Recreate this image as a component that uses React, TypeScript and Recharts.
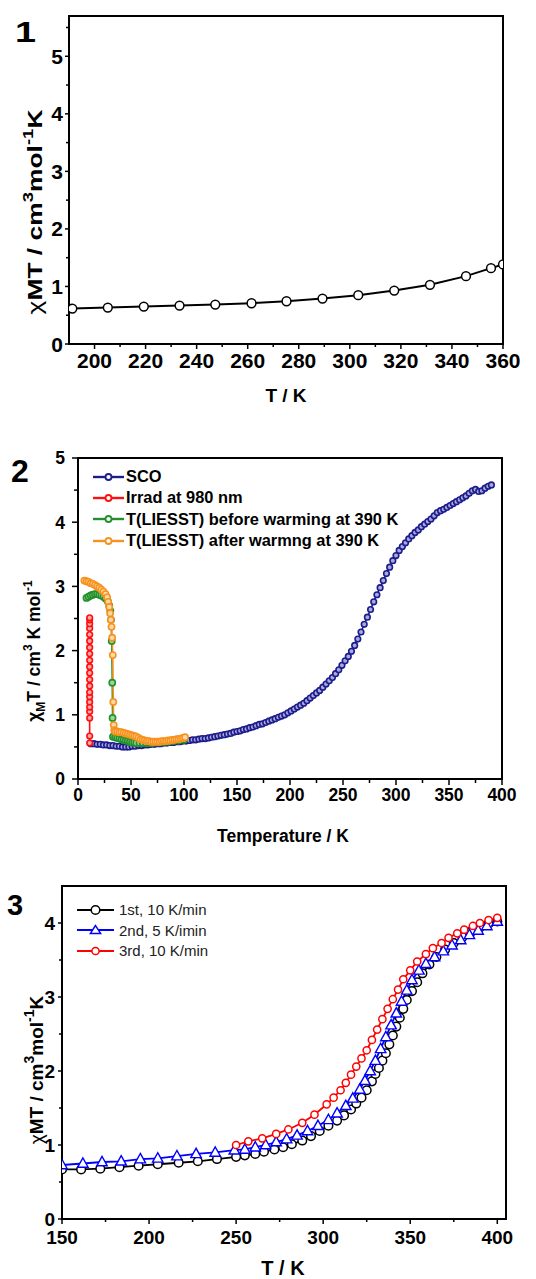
import React from 'react';
import { LineChart, Line, XAxis, YAxis, ReferenceArea, Legend } from 'recharts';

const FONT = '"Liberation Sans", Arial, Helvetica, sans-serif';

// ---------- Panel 1 ----------
const p1T = [191.3, 205.2, 219.3, 233.3, 247.3, 261.5, 275.2, 289.3, 303.3, 317.4, 331.4, 345.5, 355.3, 360];
const p1Chi = [0.616, 0.633, 0.65, 0.668, 0.685, 0.708, 0.743, 0.79, 0.848, 0.929, 1.028, 1.179, 1.318, 1.382];
const p1XMajor = [200, 220, 240, 260, 280, 300, 320, 340, 360];
const p1XMinor = [210, 230, 250, 270, 290, 310, 330, 350];
const p1YMajor = [0, 1, 2, 3, 4, 5];
const p1YMinor = [0.5, 1.5, 2.5, 3.5, 4.5, 5.5];

// ---------- Panel 2 ----------
const p2ScoT = [
  12, 15, 18, 21, 24, 27, 30, 33, 36, 39,
  42, 45, 48, 51, 54, 57, 60, 63, 66, 69,
  72, 75, 78, 81, 84, 87, 90, 93, 96, 99,
  102, 105, 108, 111, 114, 117, 120, 123, 126, 129,
  132, 135, 138, 141, 144, 147, 150, 153, 156, 159,
  162, 165, 168, 171, 174, 177, 180, 183, 186, 189,
  192, 195, 198, 201, 204, 207, 210, 213, 216, 219,
  222, 225, 228, 231, 234, 237, 240, 243, 246, 249,
  252, 255, 258, 261, 264, 267, 270, 273, 276, 279,
  282, 285, 288, 291, 294, 297, 300, 303, 306, 309,
  312, 315, 318, 321, 324, 327, 330, 333, 336, 339,
  342, 345, 348, 351, 354, 357, 360, 363, 366, 369,
  372, 375, 378, 381, 384, 387, 390,
];
const p2ScoChi = [
  0.55, 0.55, 0.54, 0.54, 0.53, 0.53, 0.52, 0.52, 0.51, 0.51,
  0.50, 0.50, 0.50, 0.51, 0.51, 0.52, 0.52, 0.53, 0.53, 0.54,
  0.54, 0.55, 0.55, 0.56, 0.56, 0.57, 0.57, 0.58, 0.58, 0.59,
  0.59, 0.60, 0.61, 0.61, 0.62, 0.63, 0.63, 0.64, 0.65, 0.66,
  0.67, 0.68, 0.69, 0.70, 0.71, 0.73, 0.74, 0.75, 0.77, 0.78,
  0.80, 0.81, 0.83, 0.85, 0.86, 0.88, 0.90, 0.92, 0.94, 0.96,
  0.98, 1.00, 1.03, 1.06, 1.09, 1.12, 1.15, 1.18, 1.22, 1.26,
  1.30, 1.34, 1.38, 1.43, 1.48, 1.53, 1.58, 1.64, 1.70, 1.77,
  1.84, 1.91, 1.99, 2.08, 2.18, 2.29, 2.41, 2.52, 2.64, 2.76,
  2.87, 2.98, 3.09, 3.20, 3.30, 3.40, 3.48, 3.56, 3.62, 3.68,
  3.74, 3.79, 3.84, 3.88, 3.93, 3.97, 4.01, 4.05, 4.10, 4.15,
  4.18, 4.20, 4.23, 4.26, 4.29, 4.32, 4.35, 4.38, 4.41, 4.45,
  4.49, 4.51, 4.48, 4.49, 4.53, 4.56, 4.58,
];
const p2IrrT = [11, 11, 11, 11, 11, 11, 11, 11, 11, 11, 11, 11, 11, 11, 11, 11, 11, 11, 11, 11, 11];
const p2IrrChi = [0.56, 0.67, 0.95, 1.05, 1.12, 1.2, 1.28, 1.35, 1.45, 1.55, 1.65, 1.75, 1.85, 1.95, 2.05, 2.15, 2.25, 2.35, 2.42, 2.48, 2.51];
const p2BeforeT = [
  8, 10, 12, 14, 16, 18, 20, 22, 24, 26, 28, 29.5, 30.5, 31.2, 31.8, 32.3, 32.6, 33,
  35, 37, 39, 41, 43, 45, 47, 49, 51, 53, 55, 58, 61, 64, 67, 70, 75, 80, 85, 90, 95, 100,
];
const p2BeforeChi = [
  2.82, 2.84, 2.86, 2.87, 2.88, 2.88, 2.87, 2.86, 2.84, 2.81, 2.77, 2.70, 2.62, 2.48, 2.15, 1.5, 0.95, 0.66,
  0.65, 0.64, 0.63, 0.62, 0.61, 0.60, 0.59, 0.58, 0.57, 0.57, 0.56, 0.56, 0.56, 0.56, 0.56, 0.56, 0.57, 0.57, 0.58, 0.59, 0.60, 0.61,
];
const p2AfterT = [
  6, 8, 10, 12, 14, 16, 18, 20, 22, 24, 26, 27.5, 28.5, 29.5, 30.3, 31, 31.6, 32.2, 32.8, 33.3, 33.7, 34.2,
  35, 37, 39, 41, 43, 45, 47, 49, 51, 53, 55, 57, 59, 61, 63, 65, 67, 69, 71, 73, 75, 77, 79, 81,
  83, 85, 87, 89, 91, 93, 95, 97, 99, 101,
];
const p2AfterChi = [
  3.09, 3.08, 3.07, 3.05, 3.04, 3.02, 3.00, 2.98, 2.95, 2.92, 2.88, 2.83, 2.76, 2.68, 2.58, 2.48, 2.37, 2.2, 1.93, 1.2, 0.84, 0.76,
  0.74, 0.74, 0.73, 0.73, 0.72, 0.71, 0.70, 0.69, 0.68, 0.67, 0.66, 0.64, 0.62, 0.61, 0.60, 0.59, 0.59, 0.58, 0.58, 0.58, 0.58, 0.58, 0.59, 0.59,
  0.59, 0.60, 0.60, 0.61, 0.61, 0.62, 0.62, 0.63, 0.64, 0.65,
];
const p2Names = ['SCO', 'Irrad at 980 nm', 'T(LIESST) before warming at 390 K', 'T(LIESST) after warmng at 390 K'];
const p2XMajor = [0, 50, 100, 150, 200, 250, 300, 350, 400];
const p2XMinor = [25, 75, 125, 175, 225, 275, 325, 375];
const p2YMajor = [0, 1, 2, 3, 4, 5];
const p2YMinor = [0.5, 1.5, 2.5, 3.5, 4.5];

// ---------- Panel 3 ----------
const p3FirstT = [
  150, 161, 172, 183, 194, 205, 217, 228, 239, 250,
  255, 261, 266, 272, 277, 282, 288, 293, 298, 303,
  308, 312, 316, 319, 322, 325, 328, 330, 332, 334,
  336, 338, 340, 342, 344, 346, 348, 351, 354, 357,
  361, 365, 370, 375, 380, 385, 390, 395, 400,
];
const p3FirstChi = [
  0.67, 0.67, 0.68, 0.70, 0.72, 0.74, 0.76, 0.78, 0.81, 0.84,
  0.86, 0.88, 0.91, 0.94, 0.97, 1.01, 1.06, 1.12, 1.19, 1.26,
  1.33, 1.40, 1.48, 1.56, 1.64, 1.74, 1.86, 1.96, 2.04, 2.14,
  2.24, 2.36, 2.48, 2.60, 2.72, 2.84, 2.96, 3.08, 3.20, 3.32,
  3.44, 3.54, 3.64, 3.73, 3.81, 3.88, 3.94, 3.99, 4.02,
];
const p3SecondT = [
  150, 162, 173, 184, 195, 205, 216, 227, 238, 249,
  255, 261, 267, 273, 279, 285, 291, 297, 303, 308,
  313, 317, 321, 324, 327, 330, 333, 336, 339, 342,
  345, 348, 351, 355, 359, 364, 369, 374, 379, 384,
  389, 394, 400,
];
const p3SecondChi = [
  0.73, 0.75, 0.77, 0.78, 0.81, 0.82, 0.85, 0.88, 0.90, 0.93,
  0.94, 0.97, 1.00, 1.04, 1.08, 1.13, 1.19, 1.26, 1.34, 1.43,
  1.53, 1.63, 1.75, 1.87, 2.00, 2.14, 2.30, 2.46, 2.62, 2.78,
  2.94, 3.09, 3.23, 3.36, 3.45, 3.54, 3.62, 3.70, 3.77, 3.84,
  3.90, 3.96, 4.02,
];
const p3ThirdT = [
  250, 257, 265, 273, 280, 288, 295, 302, 306, 310,
  313, 316, 319, 322, 325, 328, 331, 334, 337, 340,
  343, 346, 350, 354, 359, 363, 368, 372, 377, 381,
  386, 390, 395, 400,
];
const p3ThirdChi = [
  1.00, 1.05, 1.09, 1.15, 1.21, 1.30, 1.41, 1.55, 1.64, 1.74,
  1.84, 1.95, 2.06, 2.17, 2.28, 2.42, 2.56, 2.70, 2.84, 2.97,
  3.10, 3.24, 3.36, 3.48, 3.58, 3.66, 3.73, 3.80, 3.86, 3.91,
  3.96, 4.00, 4.04, 4.07,
];
const p3Names = ['1st, 10 K/min', '2nd, 5 K/imin', '3rd, 10 K/min'];
const p3XMajor = [150, 200, 250, 300, 350, 400];
const p3XMinor = [175, 225, 275, 325, 375];
const p3YMajor = [0, 1, 2, 3, 4];
const p3YMinor = [0.5, 1.5, 2.5, 3.5];

type Pt = { T: number; chi: number };
const zip = (t: number[], c: number[]): Pt[] => t.map((T, i) => ({ T, chi: c[i] }));

type TickOpts = { font: number; major: number; minor: number; gap: number };

function tickRenderer(axis: 'x' | 'y', majors: number[], o: TickOpts) {
  return (props: any) => {
    const { x, y, payload, index } = props;
    const v = payload.value;
    const isMajor = majors.indexOf(v) >= 0;
    const len = isMajor ? o.major : o.minor;
    if (axis === 'y') {
      return (
        <g key={`yt-${index}`}>
          <line x1={x - len} x2={x} y1={y} y2={y} stroke="#000" strokeWidth={1.5} />
          {isMajor && (
            <text x={x - o.gap} y={y} dy="0.36em" textAnchor="end" fontFamily={FONT} fontWeight="bold" fontSize={o.font} fill="#000">
              {v}
            </text>
          )}
        </g>
      );
    }
    return (
      <g key={`xt-${index}`}>
        <line x1={x} x2={x} y1={y} y2={y + len} stroke="#000" strokeWidth={1.5} />
        {isMajor && (
          <text x={x} y={y + o.gap} textAnchor="middle" fontFamily={FONT} fontWeight="bold" fontSize={o.font} fill="#000">
            {v}
          </text>
        )}
      </g>
    );
  };
}

const triangleDot = (color: string, size: number) => (props: any) => {
  const { cx, cy, index } = props;
  if (cx == null || cy == null) return <g key={`tri-${index}`} />;
  const h = size;
  const pts = `${cx},${cy - h * 0.62} ${cx - h * 0.58},${cy + h * 0.42} ${cx + h * 0.58},${cy + h * 0.42}`;
  return <polygon key={`tri-${index}`} points={pts} fill="#fff" stroke={color} strokeWidth={1.4} />;
};

const orderBy = (items: any[], names: string[]) =>
  [...items].sort((a, b) => names.indexOf(a.value) - names.indexOf(b.value));

const p2Legend = (props: any) => {
  const items = orderBy(props.payload || [], p2Names);
  return (
    <div style={{ fontFamily: FONT, fontWeight: 'bold', fontSize: 16.4, color: '#000' }}>
      {items.map((e: any, i: number) => (
        <div key={i} style={{ display: 'flex', alignItems: 'center', height: 21.3, whiteSpace: 'nowrap' }}>
          <svg width={31} height={12} style={{ display: 'block' }}>
            <line x1={0} x2={31} y1={6} y2={6} stroke={e.color} strokeWidth={2.4} />
            <circle cx={15.5} cy={6} r={3} fill="#fff" stroke={e.color} strokeWidth={1.8} />
          </svg>
          <span style={{ marginLeft: 2 }}>{e.value}</span>
        </div>
      ))}
    </div>
  );
};

const p3Legend = (props: any) => {
  const items = orderBy(props.payload || [], p3Names);
  return (
    <div style={{ fontFamily: FONT, fontSize: 15, color: '#222' }}>
      {items.map((e: any, i: number) => (
        <div key={i} style={{ display: 'flex', alignItems: 'center', height: 20.5, whiteSpace: 'nowrap' }}>
          <svg width={37} height={14} style={{ display: 'block' }}>
            <line x1={0} x2={37} y1={7} y2={7} stroke={e.color} strokeWidth={1.8} />
            {e.value === p3Names[1] ? (
              <polygon points="18.5,2.5 13.3,10.5 23.7,10.5" fill="#fff" stroke={e.color} strokeWidth={1.4} />
            ) : (
              <circle cx={18.5} cy={7} r={e.value === p3Names[0] ? 4.3 : 3.6} fill="#fff" stroke={e.color} strokeWidth={1.5} />
            )}
          </svg>
          <span style={{ marginLeft: 5 }}>{e.value}</span>
        </div>
      ))}
    </div>
  );
};

function Panel1() {
  const data = zip(p1T, p1Chi);
  return (
    <LineChart width={536} height={420} margin={{ top: 16, right: 33, bottom: 36, left: 19 }}>
      <XAxis
        dataKey="T" type="number" domain={[190, 360]} allowDataOverflow
        ticks={[...p1XMajor, ...p1XMinor].sort((a, b) => a - b)} interval={0}
        tickSize={0} tickMargin={0} height={40} axisLine={{ stroke: '#000', strokeWidth: 2 }} tickLine={false}
        tick={tickRenderer('x', p1XMajor, { font: 21, major: 5, minor: 3, gap: 24 })}
      />
      <YAxis
        type="number" domain={[0, 5.7]} allowDataOverflow
        ticks={[...p1YMajor, ...p1YMinor].sort((a, b) => a - b)} interval={0}
        tickSize={0} tickMargin={0} width={50} axisLine={{ stroke: '#000', strokeWidth: 2 }} tickLine={false}
        tick={tickRenderer('y', p1YMajor, { font: 21, major: 4, minor: 3, gap: 6 })}
      />
      <ReferenceArea x1={190} x2={360} y1={0} y2={5.7} fill="none" stroke="#000" strokeWidth={2} />
      <Line
        data={data} dataKey="chi" type="linear" stroke="#000" strokeWidth={2}
        dot={{ r: 4.4, fill: '#fff', stroke: '#000', strokeWidth: 1.5 }} isAnimationActive={false}
      />
    </LineChart>
  );
}

function Panel2() {
  const series = [
    { t: p2ScoT, c: p2ScoChi, color: '#1c1c8c', fill: '#a9a9dc', r: 2.8 },
    { t: p2IrrT, c: p2IrrChi, color: '#ff1010', fill: '#ffaaaa', r: 2.8 },
    { t: p2BeforeT, c: p2BeforeChi, color: '#23902a', fill: '#9bd49b', r: 3.1 },
    { t: p2AfterT, c: p2AfterChi, color: '#f7921e', fill: '#ffd9a8', r: 3.1 },
  ];
  return (
    <LineChart width={536} height={425} margin={{ top: 38, right: 34, bottom: 26, left: 28 }}>
      <XAxis
        dataKey="T" type="number" domain={[0, 400]} allowDataOverflow
        ticks={[...p2XMajor, ...p2XMinor].sort((a, b) => a - b)} interval={0}
        tickSize={0} tickMargin={0} height={40} axisLine={{ stroke: '#000', strokeWidth: 2 }} tickLine={false}
        tick={tickRenderer('x', p2XMajor, { font: 17.5, major: 6, minor: 4, gap: 22 })}
      />
      <YAxis
        type="number" domain={[0, 5]} allowDataOverflow
        ticks={[...p2YMajor, ...p2YMinor].sort((a, b) => a - b)} interval={0}
        tickSize={0} tickMargin={0} width={50} axisLine={{ stroke: '#000', strokeWidth: 2 }} tickLine={false}
        tick={tickRenderer('y', p2YMajor, { font: 17.5, major: 6, minor: 4, gap: 13 })}
      />
      <ReferenceArea x1={0} x2={400} y1={0} y2={5} fill="none" stroke="#000" strokeWidth={2} />
      {series.map((s, i) => (
        <Line
          key={p2Names[i]} name={p2Names[i]} data={zip(s.t, s.c)} dataKey="chi" type="linear"
          stroke={s.color} strokeWidth={1.6}
          dot={{ r: s.r, fill: s.fill, stroke: s.color, strokeWidth: 1.6 }} isAnimationActive={false}
        />
      ))}
      <Legend layout="vertical" align="center" verticalAlign="middle" content={p2Legend} wrapperStyle={{ left: 93, top: 46 }} />
    </LineChart>
  );
}

function Panel3() {
  return (
    <LineChart width={536} height={434} margin={{ top: 41, right: 30, bottom: 20, left: 12 }}>
      <XAxis
        dataKey="T" type="number" domain={[150, 405]} allowDataOverflow
        ticks={[...p3XMajor, ...p3XMinor].sort((a, b) => a - b)} interval={0}
        tickSize={0} tickMargin={0} height={40} axisLine={{ stroke: '#000', strokeWidth: 2 }} tickLine={false}
        tick={tickRenderer('x', p3XMajor, { font: 19, major: 5, minor: 3, gap: 25 })}
      />
      <YAxis
        type="number" domain={[0, 4.5]} allowDataOverflow
        ticks={[...p3YMajor, ...p3YMinor].sort((a, b) => a - b)} interval={0}
        tickSize={0} tickMargin={0} width={50} axisLine={{ stroke: '#000', strokeWidth: 2 }} tickLine={false}
        tick={tickRenderer('y', p3YMajor, { font: 19, major: 4, minor: 3, gap: 7 })}
      />
      <ReferenceArea x1={150} x2={405} y1={0} y2={4.5} fill="none" stroke="#000" strokeWidth={2} />
      <Line
        name={p3Names[0]} data={zip(p3FirstT, p3FirstChi)} dataKey="chi" type="linear" stroke="#000" strokeWidth={1.8}
        dot={{ r: 4.3, fill: '#fff', stroke: '#000', strokeWidth: 1.5 }} isAnimationActive={false}
      />
      <Line
        name={p3Names[1]} data={zip(p3SecondT, p3SecondChi)} dataKey="chi" type="linear" stroke="#0000ff" strokeWidth={1.8}
        dot={triangleDot('#0000ff', 9)} isAnimationActive={false}
      />
      <Line
        name={p3Names[2]} data={zip(p3ThirdT, p3ThirdChi)} dataKey="chi" type="linear" stroke="#ff0000" strokeWidth={1.8}
        dot={{ r: 3.6, fill: '#fff', stroke: '#ff0000', strokeWidth: 1.5 }} isAnimationActive={false}
      />
      <Legend layout="vertical" align="center" verticalAlign="middle" content={p3Legend} wrapperStyle={{ left: 77, top: 54.5 }} />
    </LineChart>
  );
}

function Titles() {
  const t = { fontFamily: FONT, fontWeight: 'bold' as const, fill: '#000' };
  return (
    <svg width={536} height={1279} style={{ position: 'absolute', left: 0, top: 0, pointerEvents: 'none' }}>
      {/* Panel 1 */}
      <text x={15} y={42} fontSize={30} textLength={21} lengthAdjust="spacingAndGlyphs" {...t}>1</text>
      <text x={42} y={212} fontSize={20} textAnchor="middle" transform="rotate(-90 42 212)"
        textLength={205} lengthAdjust="spacingAndGlyphs" {...t}>
        <tspan fontWeight="normal">χ</tspan>MT /  cm<tspan fontSize={14} dy={-9}>3</tspan>
        <tspan dy={9}>mol</tspan><tspan fontSize={14} dy={-9}>-1</tspan><tspan dy={9}>K</tspan>
      </text>
      <text x={286} y={402} fontSize={19} textAnchor="middle" {...t}>T / K</text>

      {/* Panel 2 */}
      <text x={11} y={482} fontSize={32} {...t}>2</text>
      <text x={40} y={651} fontSize={17.5} textAnchor="middle" transform="rotate(-90 40 651)" {...t}>
        χ<tspan fontSize={12} dy={5}>M</tspan><tspan dy={-5}>T / cm</tspan><tspan fontSize={12} dy={-8}>3</tspan>
        <tspan dy={8}> K mol</tspan><tspan fontSize={12} dy={-8}>-1</tspan>
      </text>
      <text x={283} y={842} fontSize={17.5} textAnchor="middle" {...t}>Temperature / K</text>

      {/* Panel 3 */}
      <text x={7} y={915} fontSize={29} {...t}>3</text>
      <text x={43} y={1070} fontSize={19} textAnchor="middle" transform="rotate(-90 43 1070)" {...t}>
        <tspan fontWeight="normal">χ</tspan>MT /  cm<tspan fontSize={14} dy={-9}>3</tspan>
        <tspan dy={9}>mol</tspan><tspan fontSize={14} dy={-9}>-1</tspan><tspan dy={9}>K</tspan>
      </text>
      <text x={283} y={1275} fontSize={20} textAnchor="middle" {...t}>T / K</text>
    </svg>
  );
}

export default function App() {
  return (
    <div style={{ position: 'absolute', left: 0, top: 0, width: 536, height: 1279, background: '#fff', overflow: 'hidden' }}>
      <div style={{ position: 'absolute', left: 0, top: 0 }}><Panel1 /></div>
      <div style={{ position: 'absolute', left: 0, top: 420 }}><Panel2 /></div>
      <div style={{ position: 'absolute', left: 0, top: 845 }}><Panel3 /></div>
      <Titles />
    </div>
  );
}
